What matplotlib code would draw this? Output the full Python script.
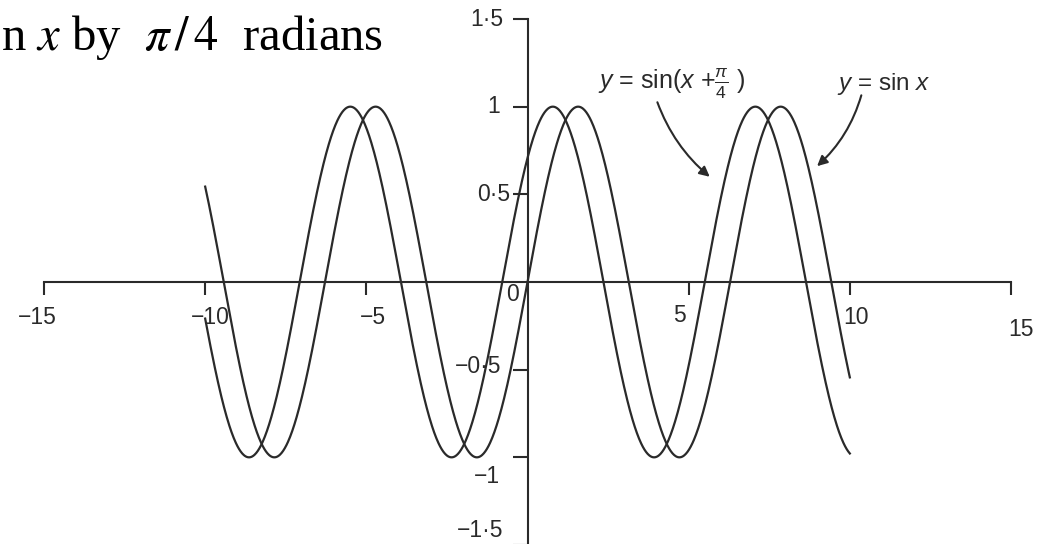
"""Phase shift of a sine wave: sin x against sin(x + pi/4)."""

import matplotlib

matplotlib.use("Agg")

import matplotlib.pyplot as plt
import numpy as np

# domain drawn for both curves and the lead of the shifted wave
X_START = -10.0
X_END = 10.0
PHASE_SHIFT = np.pi / 4

X_TICKS = [-15, -10, -5, 5, 10, 15]
X_TICK_LABELS = ["\u221215", "\u221210", "\u22125", "5", "10", "15"]
Y_TICKS = [1.5, 1.0, 0.5, -0.5, -1.0, -1.5]
Y_TICK_LABELS = ["1\u00b75", "1", "0\u00b75", "\u22120\u00b75", "\u22121", "\u22121\u00b75"]

# hand placed label anchors (data units), the book figure is not regular
X_LABEL_POS = [(-15.2, -0.2), (-9.85, -0.2), (-4.8, -0.2), (4.7, -0.19), (10.2, -0.2), (15.3, -0.27)]
Y_LABEL_POS = [(-0.75, 1.5), (-0.85, 1.0), (-0.55, 0.5), (-0.8, -0.48), (-0.85, -1.11), (-0.75, -1.42)]

INK = "#2a2a2a"

plt.rcParams["font.family"] = ["Liberation Sans", "DejaVu Sans"]
plt.rcParams["mathtext.fontset"] = "custom"
plt.rcParams["mathtext.rm"] = "Liberation Sans"
plt.rcParams["mathtext.it"] = "Liberation Sans:italic"

fig = plt.figure(figsize=(10.46, 5.44), dpi=100)
W, H = 1046, 544
ax = fig.add_axes([44 / W, (H - 545) / H, (1011 - 44) / W, (545 - 19) / H])
ax.set_xlim(-15, 15)
ax.set_ylim(-1.5, 1.5)
ax.patch.set_alpha(0)

x = np.linspace(X_START, X_END, 1200)
ax.plot(x, np.sin(x), color=INK, lw=1.6)
ax.plot(x, np.sin(x + PHASE_SHIFT), color=INK, lw=1.6)

for side in ("top", "right"):
    ax.spines[side].set_visible(False)
for side in ("left", "bottom"):
    ax.spines[side].set_position("zero")
    ax.spines[side].set_color(INK)
    ax.spines[side].set_linewidth(1.5)

ax.set_xticks(X_TICKS)
ax.set_yticks(Y_TICKS)
ax.set_xticklabels([])
ax.set_yticklabels([])
ax.tick_params(axis="x", direction="out", length=9, width=1.5, color=INK)
ax.tick_params(axis="y", direction="out", length=11, width=1.5, color=INK)

label_style = dict(fontsize=16.5, color=INK, va="center")
for text, (tx, ty) in zip(X_TICK_LABELS, X_LABEL_POS):
    ax.text(tx, ty, text, ha="center", **label_style)
for text, (tx, ty) in zip(Y_TICK_LABELS, Y_LABEL_POS):
    ax.text(tx, ty, text, ha="right", **label_style)
ax.text(-0.45, -0.07, "0", ha="center", **label_style)

# curve names with curved pointers
ax.text(2.2, 1.13, r"$y$ = sin($x$ +$\frac{\pi}{4}$ )", fontsize=18, color=INK, va="center")
ax.text(9.6, 1.13, r"$y$ = sin $x$", fontsize=17.5, color=INK, va="center")
arrow = dict(arrowstyle="-|>", color=INK, lw=1.5, mutation_scale=15)
ax.annotate("", xy=(5.72, 0.59), xytext=(4.0, 1.04),
            arrowprops=dict(connectionstyle="arc3,rad=0.14", **arrow))
ax.annotate("", xy=(8.92, 0.65), xytext=(10.38, 1.08),
            arrowprops=dict(connectionstyle="arc3,rad=-0.15", **arrow))

# tail of the caption above the plot
fig.text(1 / W, 1 - 50 / H, r"n $x$ by  $\pi\,/\,4$  radians", ha="left", va="baseline",
         fontsize=35, family=["Liberation Serif"], math_fontfamily="stix", color="black")

fig.savefig("out.png", dpi=100)
plt.close(fig)
